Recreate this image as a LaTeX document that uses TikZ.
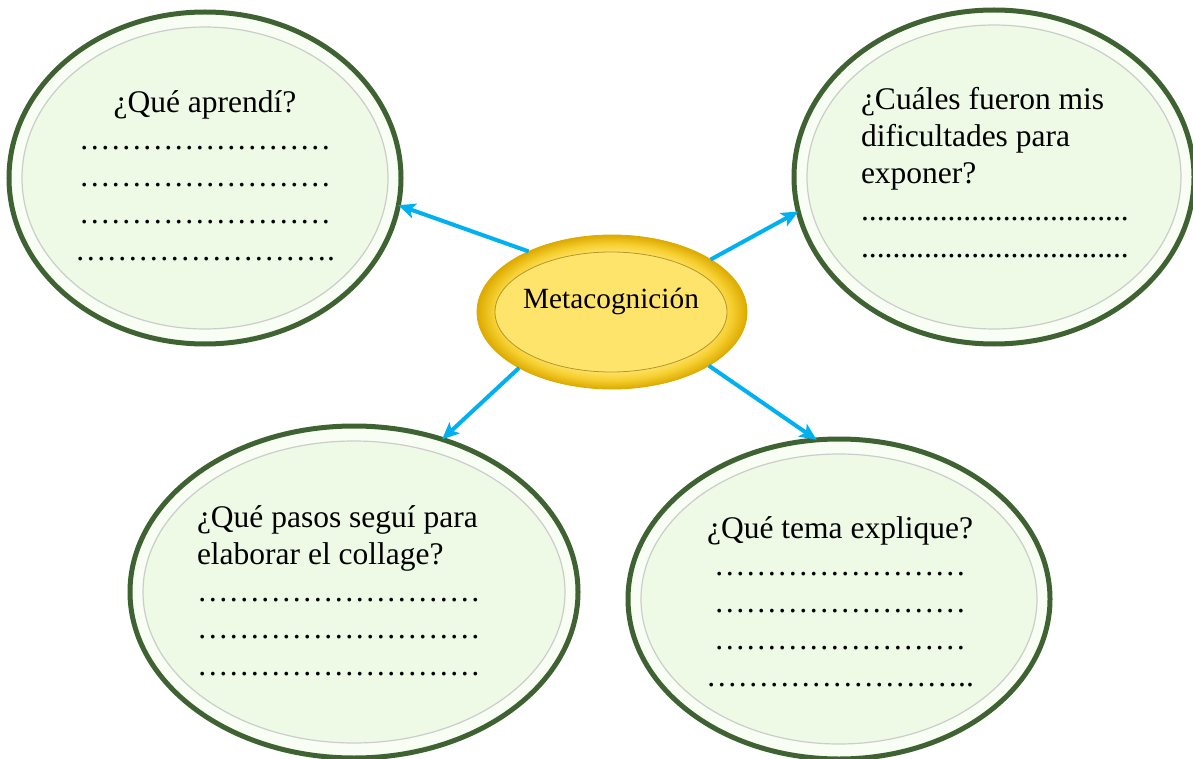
\documentclass[tikz,border=0pt]{standalone}
\usepackage{fontspec}
\setmainfont{Liberation Serif}
\usetikzlibrary{arrows.meta,shapes.geometric}
\definecolor{gborder}{HTML}{3F6232}
\definecolor{gfill}{HTML}{EEFAE5}
\definecolor{gring}{HTML}{F8FEF4}
\definecolor{arrblue}{HTML}{00B0F0}
\definecolor{gIn}{HTML}{FFE46C}
\definecolor{gMid}{HTML}{F6D032}
\definecolor{gOut}{HTML}{DDAA00}
\definecolor{gLine}{HTML}{B4962E}
\pgfdeclareradialshading{goldring}{\pgfpoint{0bp}{0bp}}{color(0bp)=(gIn);color(19bp)=(gIn);color(22bp)=(gMid);color(25bp)=(gOut);color(50bp)=(gOut)}
\begin{document}
\begin{tikzpicture}[x=1pt,y=-1pt,
  bubble/.style={ellipse,draw=gborder,line width=5pt,fill=gring,inner sep=0pt,outer sep=0pt},
  bubblein/.style={ellipse,draw=black!20,line width=1.2pt,fill=gfill,inner sep=0pt,outer sep=0pt},
  txt/.style={inner sep=0pt,outer sep=0pt,font=\fontsize{31.5}{37}\selectfont},
  arr/.style={draw=arrblue,line width=4pt,-{Stealth[length=17pt,width=15pt,inset=4pt]}}]
\useasboundingbox (0,0) rectangle (1193,759);

% outer bubbles
\node[bubble,minimum width=392pt,minimum height=332pt] (q1) at (205,178) {};
\node[bubblein,minimum width=366pt,minimum height=302pt] (q1in) at (205,178) {};
\node[bubble,minimum width=400pt,minimum height=334pt] (q2) at (994,177) {};
\node[bubblein,minimum width=374pt,minimum height=304pt] (q2in) at (994,177) {};
\node[bubble,minimum width=448pt,minimum height=332pt] (q3) at (354,592) {};
\node[bubblein,minimum width=422pt,minimum height=302pt] (q3in) at (354,592) {};
\node[bubble,minimum width=422pt,minimum height=320pt] (q4) at (839,599) {};
\node[bubblein,minimum width=396pt,minimum height=290pt] (q4in) at (839,599) {};

% centre
\node[ellipse,minimum width=270pt,minimum height=154pt,inner sep=0pt,outer sep=0pt,shading=goldring,draw=gOut,line width=0.8pt] (mid) at (612,312) {};
\node[ellipse,minimum width=232pt,minimum height=120pt,inner sep=0pt,outer sep=0pt,fill=gIn,draw=gLine,line width=0.8pt] (midin) at (611,312) {};
\node[inner sep=0pt,anchor=base,font=\fontsize{29.3}{34}\selectfont] (midtxt) at (611,308) {Metacognición};

% texts
\node[txt,anchor=base] (t1) at (205,113) {\parbox[t]{340pt}{\centering ¿Qué aprendí?\\……………………\\……………………\\……………………\\…………………….}};
\node[txt,anchor=base west] (t2) at (861,110) {\parbox[t]{320pt}{\raggedright ¿Cuáles fueron mis\\dificultades para\\exponer?\\..................................\\..................................}};
\node[txt,anchor=base west] (t3) at (197,527) {\parbox[t]{360pt}{\raggedright ¿Qué pasos seguí para\\elaborar el collage?\\………………………\\………………………\\………………………}};
\node[txt,anchor=base] (t4) at (840,538) {\parbox[t]{360pt}{\centering ¿Qué tema explique?\\……………………\\……………………\\……………………\\……………………..}};

% arrows
\draw[arr] (mid.144.5) -- (q1.-8.7);
\draw[arr] (mid.28.4) -- (q2.190.2);
\draw[arr] (mid.211.4) -- (q3.60.7);
\draw[arr] (mid.331) -- (q4.98.4);
\end{tikzpicture}
\end{document}
